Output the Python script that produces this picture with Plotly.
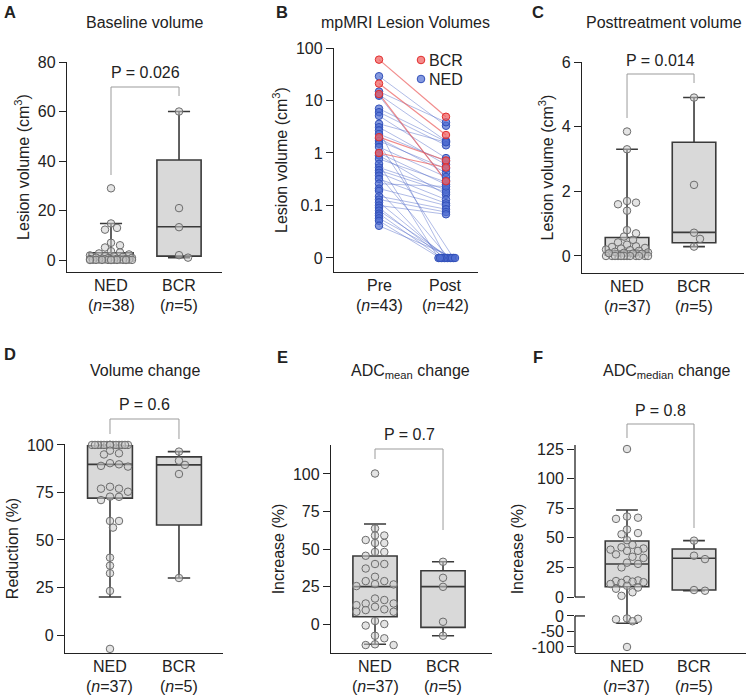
import plotly.graph_objects as go

W, H = 746, 700
FONT = "Liberation Sans, Arial, Helvetica, sans-serif"
INK = "#222222"

# ---------------- data ----------------
groups = ["NED", "BCR"]

# Lesion volumes (cm3) before / after treatment (None = no post-treatment lesion measurement)
pre_ned = [29, 14.8, 13.0, 12.3, 7.0, 6.0, 5.1, 3.6, 3.1, 2.7, 2.3, 1.9, 1.7, 1.5, 1.3,
           1.0, 0.9, 0.77, 0.62, 0.53, 0.47, 0.42, 0.37, 0.32, 0.26, 0.21, 0.19, 0.15,
           0.13, 0.115, 0.1, 0.09, 0.08, 0.07, 0.064, 0.057, 0.051, 0.041]
post_ned = [3.3, 3.85, 1.7, 0.3, 1.65, 1.4, 0.8, 1.6, 0.6, 0, 0.7, 0.42, 0.5, 0, 0.35,
            0.25, 0.16, 0.28, 0, 0.2, 0.18, 0.13, 0, 0.11, 0.23, 0.1, 0, 0.085,
            0.075, 0, 0.068, 0, 0, 0, None, 0, 0, 0]
pre_bcr = [60, 21, 13.3, 2.0, 1.0]
post_bcr = [4.9, 2.2, 0.29, 0.72, 0.53]

# Volume change: reduction (%)
reduction_ned = [100] * 15 + [97, 95.6, 95, 90.4, 89.8, 89, 88.6, 78, 77, 77, 75.4, 72.8,
                              72.7, 71, 60, 60, 56.5, 40.7, 36.5, 32.5, 23.2, -7.3]
reduction_bcr = [96.5, 91.7, 89.5, 84.7, 30]

# ADC mean change: increase (%)
adc_mean_ned = [100.3, 63.7, 59, 59, 56, 54, 54, 48, 48, 45.5, 40, 40, 37, 31.5, 28.6, 26.6,
                28.6, 26.4, 25.3, 17, 16, 13.7, 11.5, 12.6, 13.7, 9.8, 9.3, 8.2, 8.2, 2, 0,
                -1, -9.5, -7.8, -14, -13.5, -14]
adc_mean_bcr = [41.5, 30.8, 24.8, 1.5, -7.8]

# ADC median change: increase (%)
adc_median_ned = [125, 68, 67, 66, 57, 54, 53, 48, 44, 42, 41, 40, 39, 39, 36, 34, 33, 29, 28,
                  25, 14.5, 14, 13.5, 13, 12.5, 12, 11, 9.5, 8, 7, 4, 1, -8, -9, -11, -17, -100]
adc_median_bcr = [47.6, 34.9, 32, 5.9, 5.3]

# Box statistics: [NED, BCR]
box_A = dict(q1=[0.2, 1.6], median=[0.9, 13.5], q3=[3.0, 40.4], lowerfence=[0.04, 1.0], upperfence=[14.8, 60])
box_C = dict(q1=[0.03, 0.41], median=[0.16, 0.73], q3=[0.57, 3.52], lowerfence=[0, 0.29], upperfence=[3.3, 4.9])
box_D = dict(q1=[72, 57.9], median=[89.8, 89.5], q3=[99.6, 93.7], lowerfence=[20, 30], upperfence=[100, 96.5])
box_E = dict(q1=[4.9, -2.2], median=[24.9, 24.9], q3=[45.3, 35.5], lowerfence=[-13.5, -7.8], upperfence=[66.7, 41.5])
box_F = dict(q1=[8.7, 5.9], median=[27.9, 32.7], q3=[47.3, 40.5], lowerfence=[-23.5, 5.3], upperfence=[73.5, 47.6])

cat_names_A = ["NED", "BCR"]
cat_names_B = ["Pre", "Post"]
n_A = ["(<i>n</i>=38)", "(<i>n</i>=5)"]
n_B = ["(<i>n</i>=43)", "(<i>n</i>=42)"]
n_37 = ["(<i>n</i>=37)", "(<i>n</i>=5)"]
p_values = {"A": "P = 0.026", "C": "P = 0.014", "D": "P = 0.6", "E": "P = 0.7", "F": "P = 0.8"}

# ---------------- helpers ----------------
ZERO_POS = 0.01          # where "0" sits on the log axis of panel B
F_GAP = 16.0             # broken axis in panel F: offset of the lower segment
F_LOW_SCALE = 0.262      # compression of the lower (negative) segment


def f_map(v):
    return v if v >= 0 else -F_GAP + v * F_LOW_SCALE


def b_y(v):
    return v if v > 0 else ZERO_POS


def swarm(ypx_list, half, step, d=7.0):
    n = len(ypx_list)
    order = sorted(range(n), key=lambda i: -ypx_list[i])
    cands = [0.0]
    k = 1
    while k * step <= half + 1e-9:
        cands += [k * step, -k * step]
        k += 1
    placed, out = [], [0.0] * n
    for i in order:
        y = ypx_list[i]
        best, bestd = 0.0, -1.0
        for c in cands:
            md = min((((c - px) ** 2 + (y - py) ** 2) ** 0.5 for px, py in placed), default=1e9)
            if md >= d:
                best = c
                break
            if md > bestd:
                best, bestd = c, md
        placed.append((best, y))
        out[i] = best
    return out


layout = dict(width=W, height=H, margin=dict(l=0, r=0, t=0, b=0, pad=0, autoexpand=False),
              paper_bgcolor="white", plot_bgcolor="white", showlegend=False,
              font=dict(family=FONT, size=16, color=INK), annotations=[], shapes=[])

panels = {}


def text(xp, yp, s, size=16, bold=False, xanchor="center"):
    layout["annotations"].append(dict(
        x=xp / W, y=1 - yp / H, xref="paper", yref="paper", text=("<b>%s</b>" % s) if bold else s,
        showarrow=False, xanchor=xanchor, yanchor="middle",
        font=dict(family=FONT, size=size, color=INK)))


def set_axes(key, k, xpx, ypx, xr, yr, names, ns, ytitle, yextra=None):
    s = "" if k == 1 else str(k)
    layout["xaxis" + s] = dict(domain=[xpx[0] / W, xpx[1] / W], range=list(xr), anchor="y" + s,
                               showline=True, linecolor=INK, linewidth=1.3, ticks="",
                               showgrid=False, zeroline=False, showticklabels=False, automargin=False)
    ya = dict(domain=[1 - ypx[1] / H, 1 - ypx[0] / H], range=list(yr), anchor="x" + s,
              showline=True, linecolor=INK, linewidth=1.3, ticks="outside", ticklen=7,
              tickwidth=1.3, tickcolor=INK, showgrid=False, zeroline=False, automargin=False,
              tickfont=dict(size=16), title=dict(text=ytitle, font=dict(size=16), standoff=4))
    if yextra:
        ya.update(yextra)
    layout["yaxis" + s] = ya
    panels[key] = dict(s=s, xpx=xpx, ypx=ypx, xr=xr, yr=yr)
    # category labels under the x axis
    for c in (0, 1):
        text(cat_px(key, c), ypx[1] + 13, names[c])
        text(cat_px(key, c), ypx[1] + 33, ns[c])


def cat_px(key, c):
    p = panels[key]
    x0, x1 = p["xpx"]
    r0, r1 = p["xr"]
    return x0 + (c - r0) / (r1 - r0) * (x1 - x0)


def ppu(key):
    p = panels[key]
    return ((p["ypx"][1] - p["ypx"][0]) / (p["yr"][1] - p["yr"][0]),
            (p["xpx"][1] - p["xpx"][0]) / (p["xr"][1] - p["xr"][0]))


def bracket(key, ytop, yleft, yright, label, ylabel):
    xl, xr_ = cat_px(key, 0), cat_px(key, 1)
    col = "#9b9b9b"
    for (a, b, c, d) in [(xl, ytop, xr_, ytop), (xl, ytop, xl, yleft), (xr_, ytop, xr_, yright)]:
        layout["shapes"].append(dict(type="line", xref="paper", yref="paper",
                                     x0=a / W, y0=1 - b / H, x1=c / W, y1=1 - d / H,
                                     line=dict(color=col, width=1)))
    text((xl + xr_) / 2, ylabel, label, size=16)


def add_box(key, stats, mapper=lambda v: v):
    s = panels[key]["s"]
    fig.add_trace(go.Box(
        x=[0, 1], q1=[mapper(v) for v in stats["q1"]], median=[mapper(v) for v in stats["median"]],
        q3=[mapper(v) for v in stats["q3"]], lowerfence=[mapper(v) for v in stats["lowerfence"]],
        upperfence=[mapper(v) for v in stats["upperfence"]], width=0.65, whiskerwidth=0.5,
        fillcolor="#d9d9d9", line=dict(color="#3a3a3a", width=1.6), boxpoints=False,
        xaxis="x" + s, yaxis="y" + s, hoverinfo="skip"))


def add_points(key, ned, bcr, half=20, step=3.0, mapper=lambda v: v):
    s = panels[key]["s"]
    py_u, px_u = ppu(key)
    xs, ys = [], []
    for c, vals in enumerate([ned, bcr]):
        mv = [mapper(v) for v in vals]
        offs = swarm([v * py_u for v in mv], half, step)
        xs += [c + o / px_u for o in offs]
        ys += mv
    fig.add_trace(go.Scatter(
        x=xs, y=ys, mode="markers", cliponaxis=False, hoverinfo="skip",
        marker=dict(size=7.5, color="rgba(205,205,205,0.55)", line=dict(color="#6c6c6c", width=1)),
        xaxis="x" + s, yaxis="y" + s))


fig = go.Figure()

# ---------------- axes ----------------
set_axes("A", 1, (67, 222), (62, 272), (-0.647, 1.632), (-4.8, 80), cat_names_A, n_A,
         "Lesion volume (cm<sup>3</sup>)", dict(tickvals=[0, 20, 40, 60, 80]))
set_axes("B", 2, (334, 478), (48, 272), (-0.672, 1.478), (-2.267, 2.0), cat_names_B, n_B,
         "Lesion volume (cm<sup>3</sup>)",
         dict(type="log", tickvals=[ZERO_POS, 0.1, 1, 10, 100], ticktext=["0", "0.1", "1", "10", "100"]))
set_axes("C", 3, (582, 744), (62, 273), (-0.672, 1.746), (-0.526, 6), cat_names_A, n_37,
         "Lesion volume (cm<sup>3</sup>)", dict(tickvals=[0, 2, 4, 6]))
set_axes("D", 4, (65, 223), (444, 653), (-0.652, 1.638), (-9.47, 100.5), cat_names_A, n_37,
         "Reduction (%)", dict(tickvals=[0, 25, 50, 75, 100]))
set_axes("E", 5, (331, 492), (445, 653), (-0.647, 1.72), (-19.3, 119.3), cat_names_A, n_37,
         "Increase (%)", dict(tickvals=[0, 25, 50, 75, 100]))
f_ticks = [-100, -50, 0, 0, 25, 50, 75, 100, 125]
set_axes("F", 6, (575, 746), (445, 653), (-0.776, 1.776), (-47.3, 128.4), cat_names_A, n_37,
         "Increase (%)",
         dict(showline=False, tickvals=[f_map(v) if i > 2 else (f_map(v) if v < 0 else -F_GAP)
                                        for i, v in enumerate(f_ticks)],
              ticktext=[str(v) for v in f_ticks]))

# broken axis segments for panel F
pF = panels["F"]
f_py, _ = ppu("F")
def f_pix(v):
    return pF["ypx"][0] + (pF["yr"][1] - v) * f_py
ax_x = pF["xpx"][0]
for (a, b) in [(pF["yr"][1], 0), (-F_GAP, pF["yr"][0])]:
    layout["shapes"].append(dict(type="line", xref="paper", yref="paper",
                                 x0=ax_x / W, x1=ax_x / W, y0=1 - f_pix(a) / H, y1=1 - f_pix(b) / H,
                                 line=dict(color=INK, width=1.3)))
for v in [0, -F_GAP]:
    layout["shapes"].append(dict(type="line", xref="paper", yref="paper",
                                 x0=ax_x / W, x1=(ax_x + 10) / W, y0=1 - f_pix(v) / H, y1=1 - f_pix(v) / H,
                                 line=dict(color=INK, width=1.3)))

# ---------------- boxes and points ----------------
add_box("A", box_A)
add_points("A", pre_ned, pre_bcr, half=21, step=3.0)
add_box("C", box_C)
add_points("C", [v for v in post_ned if v is not None], post_bcr, half=21, step=3.0)
add_box("D", box_D)
add_points("D", reduction_ned, reduction_bcr, half=20, step=3.0)
add_box("E", box_E)
add_points("E", adc_mean_ned, adc_mean_bcr, half=19, step=9.3)
add_box("F", box_F, f_map)
add_points("F", adc_median_ned, adc_median_bcr, half=20, step=5.5, mapper=f_map)

# ---------------- panel B: paired lines ----------------
_, bx_u = ppu("B")
zero_idx = [i for i, v in enumerate(post_ned) if v == 0]
zoffs = swarm([0.0] * len(zero_idx), 9, 1.5)
post_x_ned = [1.0] * len(post_ned)
for j, i in enumerate(zero_idx):
    post_x_ned[i] = 1.0 + zoffs[j] / bx_u

lx, ly = [], []
for i, (a, b) in enumerate(zip(pre_ned, post_ned)):
    if b is None:
        continue
    lx += [0, post_x_ned[i], None]
    ly += [b_y(a), b_y(b), None]
fig.add_trace(go.Scatter(x=lx, y=ly, mode="lines", line=dict(color="rgba(80,105,200,0.45)", width=1),
                         xaxis="x2", yaxis="y2", hoverinfo="skip"))
rx, ry = [], []
for a, b in zip(pre_bcr, post_bcr):
    rx += [0, 1, None]
    ry += [b_y(a), b_y(b), None]
fig.add_trace(go.Scatter(x=rx, y=ry, mode="lines", line=dict(color="rgba(235,90,90,0.7)", width=1.2),
                         xaxis="x2", yaxis="y2", hoverinfo="skip"))

blue_fill, blue_line = "rgba(80,110,210,0.7)", "rgb(50,80,185)"
red_fill, red_line = "rgba(240,100,100,0.75)", "rgb(225,45,45)"
fig.add_trace(go.Scatter(
    x=[0] * len(pre_ned) + [post_x_ned[i] for i, v in enumerate(post_ned) if v is not None],
    y=[b_y(v) for v in pre_ned] + [b_y(v) for v in post_ned if v is not None],
    mode="markers", cliponaxis=False, marker=dict(size=7.5, color=blue_fill, line=dict(color=blue_line, width=1)),
    xaxis="x2", yaxis="y2", hoverinfo="skip"))
fig.add_trace(go.Scatter(
    x=[0] * len(pre_bcr) + [1] * len(post_bcr), y=[b_y(v) for v in pre_bcr + post_bcr],
    mode="markers", cliponaxis=False, marker=dict(size=7.5, color=red_fill, line=dict(color=red_line, width=1)),
    xaxis="x2", yaxis="y2", hoverinfo="skip"))

# manual legend for panel B
for (yy, fc, lc, lab) in [(60, red_fill, red_line, "BCR"), (79, blue_fill, blue_line, "NED")]:
    layout["shapes"].append(dict(type="circle", xref="paper", yref="paper",
                                 x0=(421 - 3.8) / W, x1=(421 + 3.8) / W, y0=1 - (yy + 3.8) / H, y1=1 - (yy - 3.8) / H,
                                 fillcolor=fc, line=dict(color=lc, width=1)))
    text(427, yy, lab, size=16, xanchor="left")

# ---------------- titles, labels, brackets ----------------
for (x, y, s) in [(10, 12, "A"), (282, 12, "B"), (538, 12, "C"),
                  (10, 354, "D"), (282, 357, "E"), (538, 357, "F")]:
    text(x, y, s, size=16.5, bold=True)

text(145, 22, "Baseline volume")
text(405, 22, "mpMRI Lesion Volumes")
text(744, 22, "Posttreatment volume", xanchor="right")
text(145, 370, "Volume change")
text(410, 371, "ADC<sub>mean</sub> change")
text(667, 371, "ADC<sub>median</sub> change")

bracket("A", 87, 175, 96, p_values["A"], 72)
bracket("C", 74, 118, 83, p_values["C"], 60)
bracket("D", 419, 434, 439, p_values["D"], 404)
bracket("E", 449, 459, 530, p_values["E"], 434)
bracket("F", 424, 438, 528, p_values["F"], 410)

fig.update_layout(**layout)
fig.write_html("out.html", config={"displayModeBar": False},
               post_script="document.body.style.margin='0';document.body.style.overflow='hidden';"
                           "document.documentElement.style.overflow='hidden';")
